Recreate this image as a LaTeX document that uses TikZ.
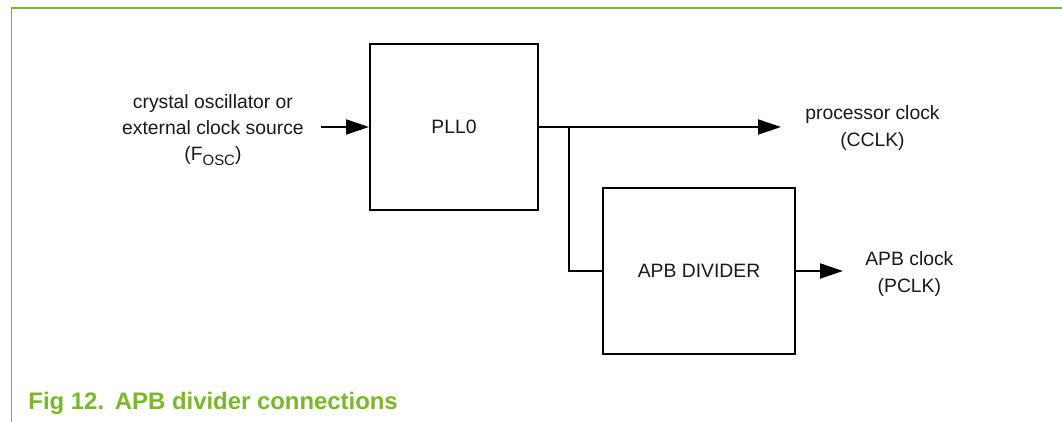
\documentclass[tikz,border=0pt]{standalone}
\usepackage{fontspec}
\setmainfont{Liberation Sans}
\usepackage{xcolor}
\usetikzlibrary{positioning, arrows.meta}
\definecolor{nxpgreen}{RGB}{122,184,41}

\begin{document}
\begin{tikzpicture}[font=\fontsize{11}{15}\selectfont, line width=1.1pt]
\tikzstyle{block_node}=[rectangle, draw, minimum height=3.32cm, align=center, text=black!90]
\tikzstyle{label_node}=[align=center, text=black!90]
\tikzstyle{clk_arrow}=[-{Triangle[length=4.6mm, width=3mm]}]

\useasboundingbox (0,0) rectangle (21.24,-8.44);

%frame
\draw[nxpgreen, line width=0.75pt] (21.24,-0.16) -- (0.23,-0.16) -- (0.23,-8.44);

\node[block_node, minimum width=3.36cm] at (9.08,-2.54) (pll) {PLL0};
\node[block_node, minimum width=3.84cm] at (13.98,-5.42) (apb) {APB DIVIDER};

\node[label_node, left=1.17cm of pll, yshift=-0.06cm] (osc) {crystal oscillator or\\external clock source\\(F\raisebox{-0.5ex}{\fontsize{8.5}{10}\selectfont OSC})};

%clock arrows
\coordinate (cclk) at (15.62,-2.54);
\coordinate (tap) at (11.38,-2.54);
\coordinate (pclk) at (16.86,-5.42);
\draw[clk_arrow] (osc.east |- pll.west) ++(0.21,0) -- (pll.west);
\draw[clk_arrow] (pll.east) -- (cclk);
\draw (tap) |- (apb.west);
\draw[clk_arrow] (apb.east) -- (pclk);

\node[label_node, right=0.35cm of cclk, yshift=-0.02cm] (cclk_lbl) {processor clock\\(CCLK)};
\node[label_node, right=0.31cm of pclk, yshift=-0.06cm] (pclk_lbl) {APB clock\\(PCLK)};

\node[anchor=base west, inner sep=0, text=nxpgreen, font=\fontsize{13.6}{15}\selectfont\bfseries] at (0.55,-8.2) (caption) {Fig 12.\hspace{0.45em}APB divider connections};

\end{tikzpicture}
\end{document}
